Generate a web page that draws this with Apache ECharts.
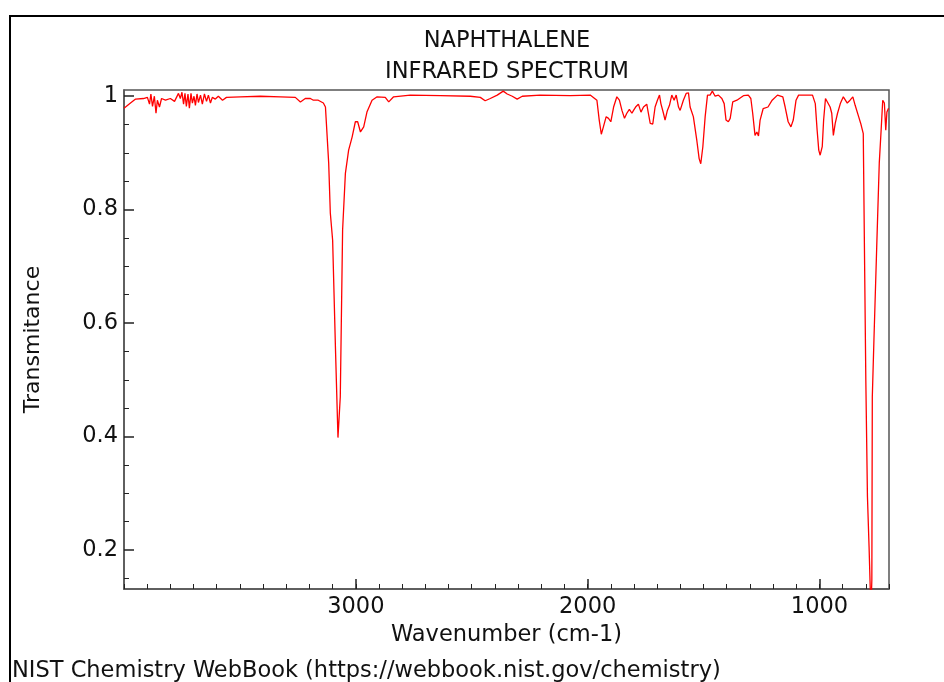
<!DOCTYPE html>
<html>
<head>
<meta charset="utf-8">
<title>Naphthalene IR spectrum</title>
<script src="https://cdn.jsdelivr.net/npm/echarts@6/dist/echarts.min.js"></script>
<style>
  html, body { margin: 0; padding: 0; background: #fff; }
  #chart { width: 944px; height: 682px; }
</style>
</head>
<body>
<div id="chart"></div>
<script>
var wavenumber = [
  4000, 3972, 3950, 3916, 3899, 3890, 3884, 3877, 3869, 3862,
  3856, 3847, 3838, 3821, 3800, 3782, 3765, 3757, 3750, 3743,
  3737, 3731, 3724, 3718, 3711, 3705, 3698, 3692, 3685, 3679,
  3670, 3662, 3653, 3644, 3636, 3627, 3619, 3606, 3593, 3575,
  3558, 3498, 3412, 3325, 3261, 3239, 3218, 3196, 3183, 3162,
  3140, 3131, 3117, 3110, 3100, 3088, 3077, 3067, 3057, 3045,
  3031, 3016, 3002, 2992, 2980, 2966, 2952, 2930, 2908, 2873,
  2858, 2837, 2765, 2636, 2506, 2463, 2442, 2420, 2390, 2364,
  2347, 2325, 2304, 2282, 2205, 2075, 1989, 1960, 1950, 1941,
  1932, 1920, 1910, 1900, 1888, 1874, 1863, 1852, 1841, 1831,
  1820, 1809, 1802, 1791, 1781, 1770, 1759, 1745, 1738, 1730,
  1719, 1709, 1699, 1690, 1684, 1673, 1666, 1656, 1647, 1637,
  1627, 1618, 1608, 1601, 1587, 1575, 1565, 1558, 1544, 1529,
  1519, 1512, 1503, 1493, 1483, 1472, 1462, 1450, 1436, 1421,
  1411, 1403, 1393, 1385, 1374, 1356, 1328, 1307, 1296, 1288,
  1278, 1270, 1263, 1256, 1243, 1222, 1204, 1181, 1158, 1148,
  1135, 1123, 1113, 1101, 1090, 1030, 1018, 1010, 1003, 997,
  988, 982, 974, 967, 954, 947, 940, 932, 922, 910,
  897, 880, 868, 856, 846, 831, 822, 815, 811, 806,
  800, 793, 786, 778, 774, 772, 765, 753, 742, 734,
  727, 720, 714, 709, 702
];
// transmittance at those wavenumbers
var transmittance = [
  0.979, 0.988, 0.995, 0.996, 0.998, 0.986, 1.004, 0.982, 1.000, 0.970,
  0.993, 0.981, 0.996, 0.993, 0.996, 0.991, 1.005, 0.996, 1.007, 0.986,
  1.005, 0.982, 1.004, 0.979, 1.005, 0.988, 1.000, 0.984, 1.004, 0.989,
  1.002, 0.986, 1.004, 0.991, 1.002, 0.988, 0.998, 0.995, 1.000, 0.993,
  0.998, 0.999, 1.000, 0.999, 0.998, 0.990, 0.996, 0.996, 0.993, 0.993,
  0.988, 0.981, 0.882, 0.794, 0.746, 0.558, 0.398, 0.470, 0.764, 0.864,
  0.905, 0.928, 0.955, 0.955, 0.937, 0.946, 0.972, 0.993, 0.999, 0.998,
  0.990, 0.999, 1.002, 1.001, 1.000, 0.998, 0.992, 0.996, 1.002, 1.009,
  1.004, 1.000, 0.995, 1.000, 1.002, 1.001, 1.002, 0.993, 0.958, 0.933,
  0.946, 0.964, 0.961, 0.955, 0.981, 0.999, 0.993, 0.975, 0.961, 0.970,
  0.977, 0.970, 0.975, 0.982, 0.986, 0.972, 0.981, 0.986, 0.970, 0.952,
  0.951, 0.981, 0.993, 1.002, 0.987, 0.970, 0.958, 0.975, 0.984, 1.002,
  0.993, 1.002, 0.981, 0.975, 0.993, 1.005, 1.006, 0.981, 0.964, 0.922,
  0.890, 0.881, 0.911, 0.964, 1.002, 1.002, 1.009, 1.000, 1.002, 0.996,
  0.987, 0.958, 0.955, 0.961, 0.990, 0.993, 1.001, 1.002, 0.996, 0.970,
  0.931, 0.937, 0.930, 0.958, 0.978, 0.981, 0.993, 1.002, 0.999, 0.981,
  0.955, 0.946, 0.958, 0.993, 1.002, 1.002, 0.987, 0.940, 0.905, 0.896,
  0.911, 0.958, 0.996, 0.999, 0.981, 0.970, 0.931, 0.952, 0.970, 0.987,
  0.999, 0.988, 0.993, 0.999, 0.984, 0.964, 0.952, 0.955, 0.934, 0.734,
  0.500, 0.294, 0.206, 0.090, 0.147, 0.470, 0.570, 0.734, 0.882, 0.940,
  0.993, 0.988, 0.940, 0.972, 0.979
];

var xLabels = [1000, 2000, 3000];
var yLabels = [0.2, 0.4, 0.6, 0.8, 1];
var yMinorTicks = [0.15, 0.25, 0.3, 0.35, 0.45, 0.5, 0.55, 0.65, 0.7, 0.75, 0.85, 0.9, 0.95];

var FONT = "DejaVu Sans";
var AXIS_COLOR = "#555";

var points = [];
for (var i = 0; i < wavenumber.length; i++) {
  points.push([wavenumber[i], transmittance[i]]);
}

var myChart = echarts.init(document.getElementById("chart"), null, { renderer: "canvas" });

var xCommon = {
  type: "value",
  inverse: true,
  min: 700,
  max: 4000,
  splitLine: { show: false }
};
var yCommon = {
  type: "value",
  min: 0.131,
  max: 1.011,
  splitLine: { show: false }
};

var option = {
  animation: false,
  backgroundColor: "#fff",
  grid: {
    left: 124,
    top: 90,
    right: 55,
    bottom: 93,
    show: true,
    borderColor: AXIS_COLOR,
    borderWidth: 1.5,
    backgroundColor: "transparent"
  },
  xAxis: [
    Object.assign({}, xCommon, {
      // minor ticks every 100 + labels
      interval: 100,
      axisLine: { show: true, lineStyle: { color: AXIS_COLOR, width: 1.5 } },
      axisTick: { show: true, inside: true, length: 5, lineStyle: { color: "#222", width: 1 } },
      axisLabel: {
        customValues: xLabels,
        formatter: function (v) { return String(v); },
        color: "#111",
        fontFamily: FONT,
        fontSize: 22.5,
        margin: 7
      },
      name: "Wavenumber (cm-1)",
      nameLocation: "middle",
      nameGap: 33,
      nameTextStyle: { color: "#111", fontFamily: FONT, fontSize: 22.5 }
    }),
    Object.assign({}, xCommon, {
      // longer ticks at the labelled values
      position: "bottom",
      axisLine: { show: false },
      axisTick: { show: true, inside: true, length: 10, customValues: xLabels, lineStyle: { color: "#222", width: 1.5 } },
      axisLabel: { show: false }
    })
  ],
  yAxis: [
    Object.assign({}, yCommon, {
      axisLine: { show: true, lineStyle: { color: AXIS_COLOR, width: 1.5 } },
      axisTick: { show: true, inside: true, length: 10, customValues: yLabels, lineStyle: { color: "#222", width: 1.5 } },
      axisLabel: {
        customValues: yLabels,
        formatter: function (v) { return String(v); },
        color: "#111",
        fontFamily: FONT,
        fontSize: 22.5,
        margin: 6
      },
      name: "Transmitance",
      nameLocation: "middle",
      nameGap: 80,
      nameTextStyle: { color: "#111", fontFamily: FONT, fontSize: 22 }
    }),
    Object.assign({}, yCommon, {
      position: "left",
      axisLine: { show: false },
      axisTick: { show: true, inside: true, length: 5, customValues: yMinorTicks, lineStyle: { color: "#222", width: 1 } },
      axisLabel: { show: false }
    })
  ],
  graphic: [
    {
      type: "rect",
      shape: { x: 10, y: 16, width: 960, height: 700 },
      style: { fill: "none", stroke: "#000", lineWidth: 2 },
      silent: true
    },
    {
      type: "text",
      x: 507,
      y: 41,
      style: { text: "NAPHTHALENE", fill: "#111", font: "22.5px 'DejaVu Sans'", textAlign: "center", textVerticalAlign: "middle" }
    },
    {
      type: "text",
      x: 507,
      y: 72,
      style: { text: "INFRARED SPECTRUM", fill: "#111", font: "22.5px 'DejaVu Sans'", textAlign: "center", textVerticalAlign: "middle" }
    },
    {
      type: "text",
      x: 12,
      y: 671,
      style: { text: "NIST Chemistry WebBook (https://webbook.nist.gov/chemistry)", fill: "#111", font: "22.5px 'DejaVu Sans'", textAlign: "left", textVerticalAlign: "middle" }
    }
  ],
  series: [
    {
      name: "Transmittance",
      type: "line",
      xAxisIndex: 0,
      yAxisIndex: 0,
      data: points,
      showSymbol: false,
      symbol: "none",
      clip: true,
      lineStyle: { color: "#ff0000", width: 1.3 },
      itemStyle: { color: "#ff0000" }
    }
  ]
};

myChart.setOption(option, true);
window.addEventListener("resize", function () {
  myChart.resize();
});
</script>
</body>
</html>
